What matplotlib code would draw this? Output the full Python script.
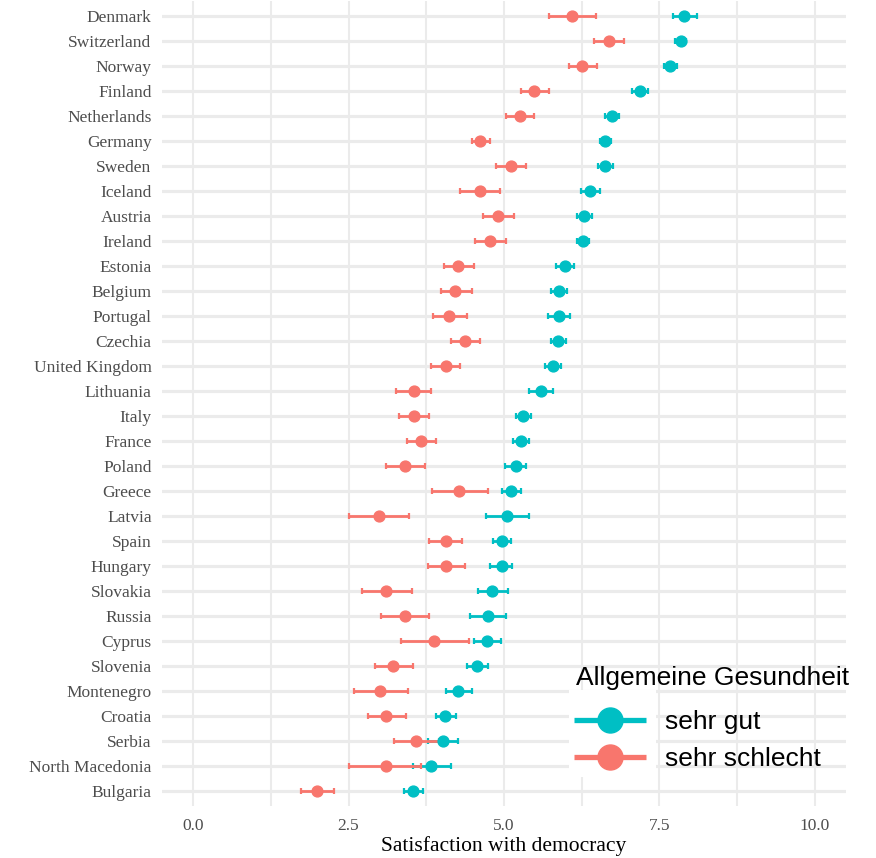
import matplotlib
matplotlib.use("Agg")
import matplotlib.pyplot as plt
from matplotlib.lines import Line2D
from matplotlib.patches import Rectangle

# countries, top to bottom
countries = ["Denmark", "Switzerland", "Norway", "Finland", "Netherlands", "Germany",
             "Sweden", "Iceland", "Austria", "Ireland", "Estonia", "Belgium", "Portugal",
             "Czechia", "United Kingdom", "Lithuania", "Italy", "France", "Poland",
             "Greece", "Latvia", "Spain", "Hungary", "Slovakia", "Russia", "Cyprus",
             "Slovenia", "Montenegro", "Croatia", "Serbia", "North Macedonia", "Bulgaria"]

# sehr gut
gut_mean = [7.90, 7.84, 7.67, 7.18, 6.74, 6.62, 6.62, 6.38, 6.29, 6.27, 5.98, 5.88, 5.88,
            5.87, 5.79, 5.59, 5.31, 5.27, 5.19, 5.11, 5.05, 4.96, 4.96, 4.81, 4.74, 4.72,
            4.57, 4.26, 4.05, 4.02, 3.82, 3.54]
gut_low = [7.72, 7.75, 7.58, 7.06, 6.63, 6.54, 6.51, 6.24, 6.18, 6.17, 5.83, 5.75, 5.71,
           5.75, 5.66, 5.41, 5.19, 5.14, 5.02, 4.96, 4.71, 4.82, 4.78, 4.58, 4.45, 4.51,
           4.41, 4.06, 3.90, 3.77, 3.53, 3.39]
gut_high = [8.10, 7.93, 7.78, 7.31, 6.85, 6.72, 6.75, 6.54, 6.41, 6.37, 6.13, 6.01, 6.06,
            6.00, 5.92, 5.78, 5.43, 5.40, 5.36, 5.28, 5.40, 5.12, 5.13, 5.06, 5.04, 4.95,
            4.74, 4.49, 4.23, 4.26, 4.14, 3.69]

# sehr schlecht
schlecht_mean = [6.09, 6.69, 6.26, 5.49, 5.25, 4.62, 5.11, 4.61, 4.91, 4.78, 4.26, 4.22,
                 4.12, 4.37, 4.06, 3.55, 3.55, 3.67, 3.41, 4.28, 2.99, 4.06, 4.07, 3.11,
                 3.40, 3.88, 3.22, 3.01, 3.11, 3.59, 3.10, 2.00]
schlecht_low = [5.72, 6.45, 6.04, 5.27, 5.03, 4.48, 4.87, 4.29, 4.66, 4.54, 4.04, 3.98,
                3.86, 4.15, 3.82, 3.27, 3.31, 3.44, 3.11, 3.84, 2.50, 3.80, 3.77, 2.72,
                3.02, 3.34, 2.92, 2.58, 2.82, 3.23, 2.51, 1.73]
schlecht_high = [6.48, 6.93, 6.49, 5.73, 5.48, 4.78, 5.36, 4.94, 5.16, 5.04, 4.51, 4.49,
                 4.41, 4.62, 4.30, 3.83, 3.80, 3.90, 3.73, 4.74, 3.48, 4.33, 4.37, 3.52,
                 3.79, 4.43, 3.53, 3.46, 3.42, 3.95, 3.67, 2.27]

xticks = [0.0, 2.5, 5.0, 7.5, 10.0]
legend_title = "Allgemeine Gesundheit"
legend_labels = ["sehr gut", "sehr schlecht"]

teal = "#00BFC4"
red = "#F8766D"
grid_col = "#EBEBEB"

W, H = 876, 858
fig = plt.figure(figsize=(W / 100, H / 100), dpi=100)
ax = fig.add_axes([162 / W, 1 - 806 / H, (846 - 162) / W, (806 - 1) / H])

n = len(countries)
ypos = list(range(n - 1, -1, -1))

for mean, low, high, col in [(gut_mean, gut_low, gut_high, teal),
                             (schlecht_mean, schlecht_low, schlecht_high, red)]:
    xerr = [[m - l for m, l in zip(mean, low)], [h - m for m, h in zip(mean, high)]]
    ax.errorbar(mean, ypos, xerr=xerr, fmt="o", color=col, ecolor=col,
                markersize=7.8, elinewidth=2.0, capsize=2.3, capthick=1.6, zorder=3)

ax.set_xlim(-0.5, 10.5)
ax.set_ylim(-0.6, n - 1 + 0.6)
ax.set_yticks(ypos)
ax.set_yticklabels(countries)
ax.set_xticks(xticks)
ax.set_xticklabels([f"{t:.1f}" for t in xticks])
ax.set_xticks([1.25, 3.75, 6.25, 8.75], minor=True)

ax.grid(axis="x", which="both", color=grid_col, linewidth=1.5, zorder=0)
ax.grid(axis="y", which="major", color=grid_col, linewidth=2.3, zorder=0)
ax.set_axisbelow(True)
for s in ax.spines.values():
    s.set_visible(False)
ax.tick_params(axis="both", which="both", length=0)
ax.tick_params(axis="y", pad=7.5)
ax.tick_params(axis="x", pad=9)

for lab in ax.get_yticklabels() + ax.get_xticklabels():
    lab.set_fontfamily("Liberation Serif")
    lab.set_fontsize(12.5)
    lab.set_color("#4D4D4D")

ax.set_xlabel("Satisfaction with democracy", fontfamily="Liberation Serif",
              fontsize=15.5, color="black", labelpad=1.5)

# white patch behind the legend keys
fig.patches.append(Rectangle((569 / W, 1 - 777 / H), 87 / W, 87 / H,
                             transform=fig.transFigure, facecolor="white",
                             edgecolor="none", zorder=2))

fig.text(576 / W, 1 - 685 / H, legend_title, family="Liberation Sans", size=19,
         ha="left", va="baseline", zorder=5)

handles = [Line2D([], [], color=teal, linewidth=3.8, marker="o", markersize=18,
                  solid_capstyle="butt"),
           Line2D([], [], color=red, linewidth=3.8, marker="o", markersize=18,
                  solid_capstyle="butt")]
leg = fig.legend(handles, legend_labels, loc="upper left",
                 bbox_to_anchor=(569 / W, 1 - 705 / H), frameon=False,
                 prop={"family": "Liberation Sans", "size": 19},
                 handlelength=2.7, handletextpad=0.75, labelspacing=0.48,
                 borderpad=0.2, borderaxespad=0)
leg.set_zorder(5)

fig.savefig("out.png", dpi=100)
